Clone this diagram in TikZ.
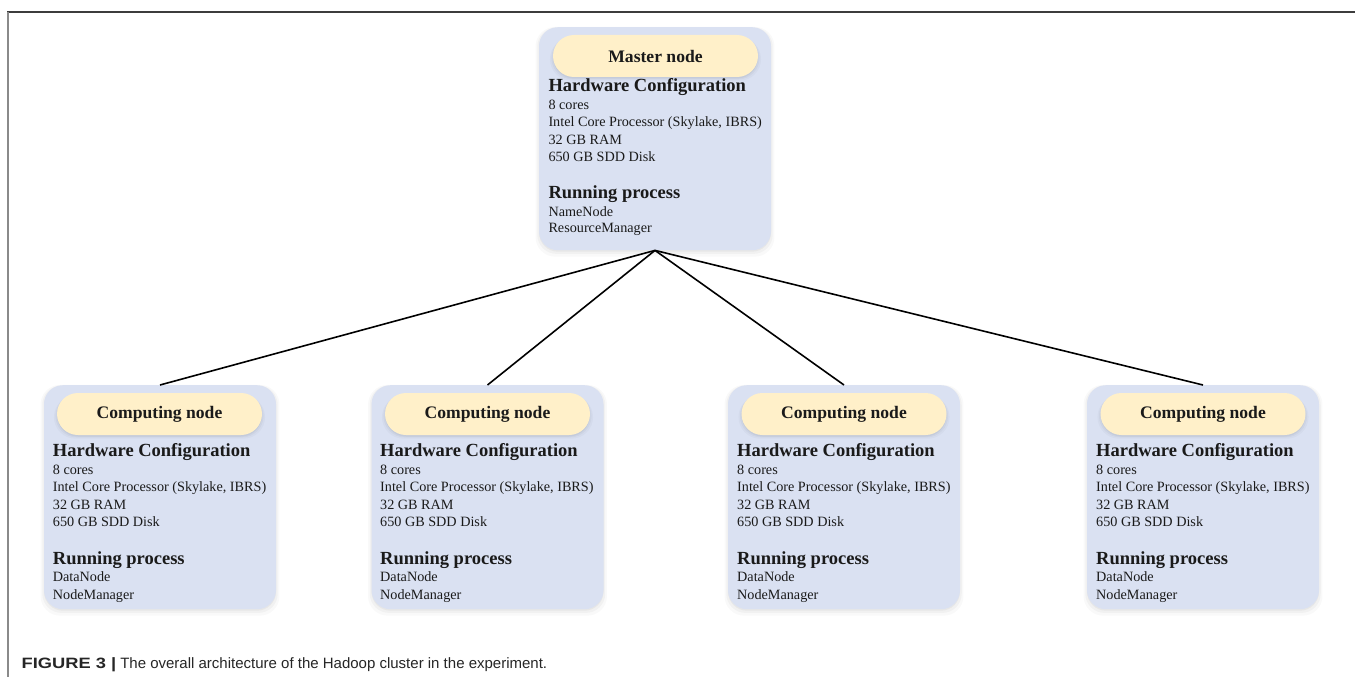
\documentclass[tikz,border=0pt]{standalone}
\usepackage{fontspec}
\setmainfont{Liberation Serif}
\newfontfamily\capfont{Liberation Sans}
\usetikzlibrary{shadows}
\definecolor{boxblue}{HTML}{DAE1F2}
\definecolor{pillyellow}{HTML}{FFF0C9}
\definecolor{txt}{HTML}{1A1A1A}
\definecolor{framegray}{HTML}{3C3C3C}
\definecolor{leftgray}{HTML}{8A8A8A}
\begin{document}
\begin{tikzpicture}[x=1pt,y=-1pt,
  softshadow/.style={
    general shadow={fill=black, opacity=0.025, shadow yshift=-3pt, shadow scale=1.03},
    general shadow={fill=black, opacity=0.03, shadow yshift=-2pt, shadow scale=1.015},
    general shadow={fill=black, opacity=0.04, shadow yshift=-1.5pt}},
  cbox/.style={softshadow, fill=boxblue, rounded corners=19pt, minimum width=232pt,
    minimum height=224pt, inner sep=0pt, anchor=north},
  pill/.style={softshadow, fill=pillyellow, rounded corners=21pt, minimum width=205pt,
    minimum height=42pt, inner sep=0pt, text=txt, font=\fontsize{17.6}{20}\selectfont\bfseries},
  hd/.style={anchor=base west, inner sep=0pt, text=txt, font=\fontsize{18.5}{20}\selectfont\bfseries},
  tx/.style={anchor=base west, inner sep=0pt, text=txt, font=\fontsize{14.2}{17}\selectfont},
  link/.style={line width=1.6pt, black}
]
\useasboundingbox (0,0) rectangle (1355,677);
\fill[white] (0,0) rectangle (1355,677);
% frame
\draw[framegray, line width=1.6pt] (7,12) -- (1355,12);
\draw[leftgray, line width=2pt] (8,12) -- (8,677);

% boxes
\node[cbox, minimum height=223pt] (m) at (655,27) {};
\node[cbox] (c1) at (160,385) {};
\node[cbox] (c2) at (487.5,385) {};
\node[cbox] (c3) at (844,385) {};
\node[cbox] (c4) at (1203,385) {};

% links
\draw[link] (m.south) -- (c1.north);
\draw[link] (m.south) -- (c2.north);
\draw[link] (m.south) -- (c3.north);
\draw[link] (m.south) -- (c4.north);

% pills
\node[pill] (mp) at (655.5,56) {Master node};
\node[pill] (p1) at (159.5,414) {Computing node};
\node[pill] (p2) at (487.5,414) {Computing node};
\node[pill] (p3) at (844,414) {Computing node};
\node[pill] (p4) at (1203,414) {Computing node};

% master text
\node[hd] (mh) at (548.3,91.7) {Hardware Configuration};
\node[tx] (m1) at (548.3,109.1) {8 cores};
\node[tx] (m2) at (548.3,126.7) {Intel Core Processor (Skylake, IBRS)};
\node[tx] (m3) at (548.3,144.1) {32 GB RAM};
\node[tx] (m4) at (548.3,161.0) {650 GB SDD Disk};
\node[hd] (mr) at (548.3,198.3) {Running process};
\node[tx] (m5) at (548.3,216.0) {NameNode};
\node[tx] (m6) at (548.3,232.7) {ResourceManager};

% computing node texts
\foreach \i/\x in {1/52.7, 2/380, 3/737, 4/1096}{
  \node[hd] (c\i h) at (\x,456.7) {Hardware Configuration};
  \node[tx] (c\i a) at (\x,474.1) {8 cores};
  \node[tx] (c\i b) at (\x,491.8) {Intel Core Processor (Skylake, IBRS)};
  \node[tx] (c\i c) at (\x,509.3) {32 GB RAM};
  \node[tx] (c\i d) at (\x,526.7) {650 GB SDD Disk};
  \node[hd] (c\i r) at (\x,564.0) {Running process};
  \node[tx] (c\i e) at (\x,581.7) {DataNode};
  \node[tx] (c\i f) at (\x,599.0) {NodeManager};
}

% caption
\node[anchor=base west, inner sep=0pt, text=black!85, font=\capfont\fontsize{15}{18}\selectfont] (cap) at (21.5,668.3)
  {\scalebox{1.22}[1]{\bfseries FIGURE 3 |}\hspace{4pt}The overall architecture of the Hadoop cluster in the experiment.};
\end{tikzpicture}
\end{document}
